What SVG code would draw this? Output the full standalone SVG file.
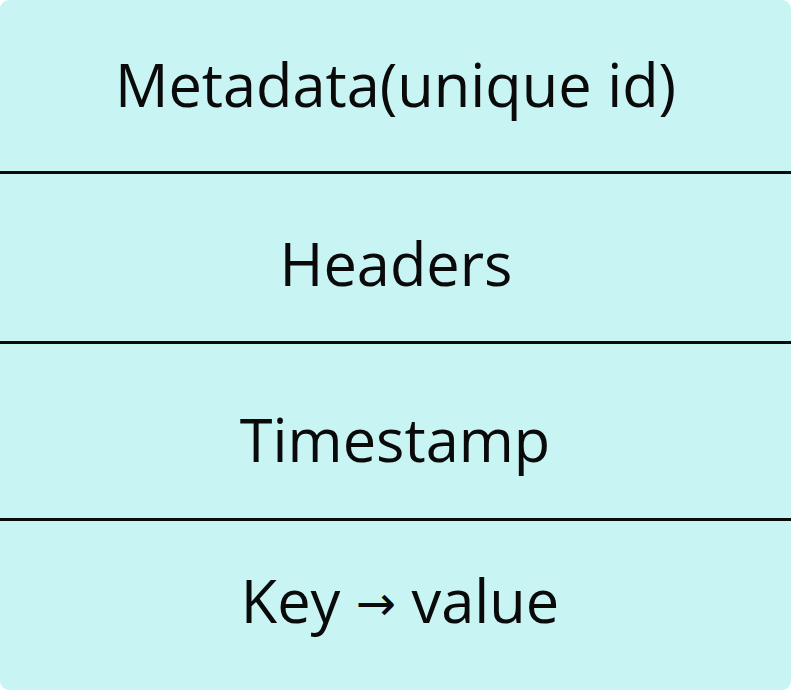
<svg xmlns="http://www.w3.org/2000/svg" width="791" height="690" viewBox="0 0 791 690">
  <style>
    .lbl { font-family: "Open Sans", "Liberation Sans", sans-serif; font-size: 59.5px; fill: #0a0a0a; text-anchor: middle; }
    .arr { font-family: "DejaVu Sans", sans-serif; font-size: 48px; }
    .sep { stroke: #0a0a0a; stroke-width: 3; }
  </style>
  <rect x="0" y="0" width="791" height="690" rx="9" ry="9" fill="#c9f4f4"/>
  <g id="connectors">
    <line class="sep" x1="0" y1="172.5" x2="791" y2="172.5"/>
    <line class="sep" x1="0" y1="342.5" x2="791" y2="342.5"/>
    <line class="sep" x1="0" y1="519.5" x2="791" y2="519.5"/>
  </g>
  <g id="metadata"><text class="lbl" x="395.5" y="107">Metadata(unique id)</text></g>
  <g id="headers"><text class="lbl" x="396" y="286">Headers</text></g>
  <g id="timestamp"><text class="lbl" x="395" y="462">Timestamp</text></g>
  <g id="keyvalue"><text class="lbl" x="400" y="623">Key <tspan class="arr" dy="-3">→</tspan><tspan dy="3"> value</tspan></text></g>
</svg>
